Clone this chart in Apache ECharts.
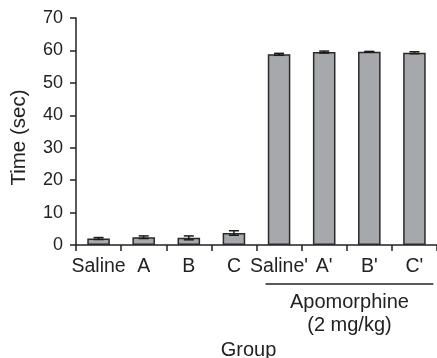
<!DOCTYPE html>
<html><head><meta charset="utf-8">
<script src="https://cdn.jsdelivr.net/npm/echarts@6/dist/echarts.min.js"></script>
<style>html,body{margin:0;padding:0;background:#fff}#c{width:437px;height:358px}</style>
</head><body><div id="c"></div>
<script>
var categories = ["Saline", "A", "B", "C", "Saline'", "A'", "B'", "C'"];
var means = [2.0, 2.4, 2.2, 3.7, 58.8, 59.5, 59.6, 59.3];
var errors = [0.3, 0.4, 0.6, 0.7, 0.3, 0.3, 0.1, 0.3];
var yTicks = [0, 10, 20, 30, 40, 50, 60, 70];
var yName = "Time (sec)";
var xName = "Group";
var groupLabel = "Apomorphine";
var groupSub = "(2 mg/kg)";

var font = "'Liberation Sans', Arial, Helvetica, sans-serif";
var chart = echarts.init(document.getElementById('c'), null, {renderer: 'canvas'});
var errData = means.map(function (m, i) { return [i, m - errors[i], m + errors[i]]; });

chart.setOption({
  animation: false,
  backgroundColor: '#fff',
  grid: {left: 76, right: 0, top: 18, bottom: 113},
  xAxis: {
    type: 'category', data: categories, boundaryGap: true,
    axisLine: {lineStyle: {color: '#222', width: 1.5}},
    axisTick: {show: true, length: 6, lineStyle: {color: '#222', width: 1.5}},
    axisLabel: {color: '#222', fontSize: 19.5, fontFamily: font, margin: 12, interval: 0}
  },
  yAxis: {
    type: 'value', min: yTicks[0], max: yTicks[yTicks.length - 1], interval: 10,
    splitLine: {show: false},
    axisLine: {show: true, lineStyle: {color: '#222', width: 1.5}},
    axisTick: {show: true, length: 6, lineStyle: {color: '#222', width: 1.5}},
    axisLabel: {color: '#222', fontSize: 18, fontFamily: font, margin: 13}
  },
  series: [{
    type: 'bar', data: means, barWidth: '50%',
    itemStyle: {color: '#a7a8ac', borderColor: '#2a2a2a', borderWidth: 1.5}
  }, {
    type: 'custom', data: errData, z: 5,
    renderItem: function (params, api) {
      var x = api.value(0);
      var lo = api.coord([x, api.value(1)]);
      var hi = api.coord([x, api.value(2)]);
      var hw = 5;
      return {type: 'group', children: [
        {type: 'line', shape: {x1: hi[0], y1: hi[1], x2: lo[0], y2: lo[1]}, style: {stroke: '#1a1a1a', lineWidth: 1.5}},
        {type: 'line', shape: {x1: hi[0] - hw, y1: hi[1], x2: hi[0] + hw, y2: hi[1]}, style: {stroke: '#1a1a1a', lineWidth: 1.5}},
        {type: 'line', shape: {x1: lo[0] - hw, y1: lo[1], x2: lo[0] + hw, y2: lo[1]}, style: {stroke: '#1a1a1a', lineWidth: 1.5}}
      ]};
    }
  }]
});

var p0 = chart.convertToPixel({gridIndex: 0}, [4, 0]);
var p1 = chart.convertToPixel({gridIndex: 0}, [7, 0]);
var bw = chart.convertToPixel({gridIndex: 0}, [1, 0])[0] - chart.convertToPixel({gridIndex: 0}, [0, 0])[0];
var lx1 = p0[0] - bw * 0.3, lx2 = p1[0] + bw * 0.42;
var cx = (lx1 + lx2) / 2;
var base = p0[1];
var gl = chart.convertToPixel({gridIndex: 0}, [0, 0])[0] - bw / 2;
var gr = p1[0] + bw / 2;
var ymid = (chart.convertToPixel({gridIndex: 0}, [0, 0])[1] + chart.convertToPixel({gridIndex: 0}, [0, 70])[1]) / 2;
chart.setOption({
  graphic: [
    {type: 'line', shape: {x1: lx1, y1: base + 39, x2: lx2, y2: base + 39}, style: {stroke: '#222', lineWidth: 1.5}},
    {type: 'text', x: cx, y: base + 57, style: {text: groupLabel, fontSize: 20, fontFamily: font, fill: '#222', textAlign: 'center', textVerticalAlign: 'middle'}},
    {type: 'text', x: cx, y: base + 80, style: {text: groupSub, fontSize: 20, fontFamily: font, fill: '#222', textAlign: 'center', textVerticalAlign: 'middle'}},
    {type: 'text', x: (gl + gr) / 2 - 8, y: base + 105, style: {text: xName, fontSize: 20, fontFamily: font, fill: '#222', textAlign: 'center', textVerticalAlign: 'middle'}},
    {type: 'text', x: 19, y: ymid + 6, rotation: Math.PI / 2, style: {text: yName, fontSize: 20.5, fontFamily: font, fill: '#222', textAlign: 'center', textVerticalAlign: 'middle'}}
  ]
});
</script></body></html>
